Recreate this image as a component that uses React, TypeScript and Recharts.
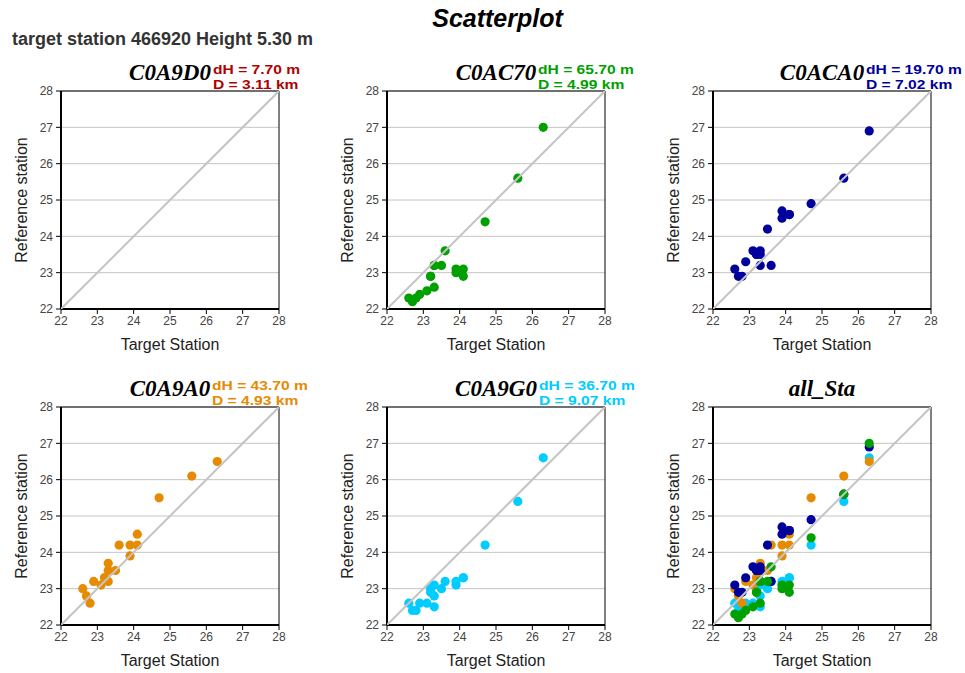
import React from "react";
import {
  ScatterChart,
  Scatter,
  XAxis,
  YAxis,
  CartesianGrid,
  ReferenceLine,
} from "recharts";

// target station values (x), shared by every reference station
const TARGET = [22.6, 22.7, 22.8, 22.9, 23.1, 23.2, 23.2, 23.3, 23.3, 23.3, 23.5, 23.6, 23.9, 23.9, 24.1, 24.1, 24.7, 25.6, 26.3];

// reference station values (y), one per target value
const REF_C0A9D0: number[] = [];
const REF_C0AC70 = [22.3, 22.2, 22.3, 22.4, 22.5, 22.9, 22.9, 23.2, 22.6, 23.2, 23.2, 23.6, 23.1, 23.0, 23.1, 22.9, 24.4, 25.6, 27.0];
const REF_C0ACA0 = [23.1, 22.9, 22.9, 23.3, 23.6, 23.5, 23.5, 23.6, 23.5, 23.2, 24.2, 23.2, 24.7, 24.5, 24.6, 24.6, 24.9, 25.6, 26.9];
const REF_C0A9A0 = [23.0, 22.8, 22.6, 23.2, 23.1, 23.3, 23.3, 23.7, 23.5, 23.2, 23.5, 24.2, 24.2, 23.9, 24.5, 24.2, 25.5, 26.1, 26.5];
const REF_C0A9G0 = [22.6, 22.4, 22.4, 22.6, 22.6, 23.0, 22.9, 23.1, 22.8, 22.5, 23.0, 23.2, 23.2, 23.1, 23.3, 23.3, 24.2, 25.4, 26.6];

const STATIONS = ["C0A9D0", "C0AC70", "C0ACA0", "C0A9A0", "C0A9G0"];
const HEIGHT_DIFF = ["7.70", "65.70", "19.70", "43.70", "36.70"];
const DISTANCE = ["3.11", "4.99", "7.02", "4.93", "9.07"];
const COLORS = ["#b00000", "#00a000", "#00009c", "#e68a00", "#00ccff"];
const REFS = [REF_C0A9D0, REF_C0AC70, REF_C0ACA0, REF_C0A9A0, REF_C0A9G0];

const TICKS = [22, 23, 24, 25, 26, 27, 28];
const DOMAIN: [number, number] = [22, 28];
const DIAG = [
  { x: DOMAIN[0], y: DOMAIN[0] },
  { x: DOMAIN[1], y: DOMAIN[1] },
];

const PLOT = 218;
const LEFTS = [61, 387, 713];
const TOPS = [91, 407];
const SANS = "'Liberation Sans', Arial, sans-serif";

const pts = (ref: number[]) => ref.map((y, i) => ({ x: TARGET[i], y }));

type Series = { data: { x: number; y: number }[]; color: string };

function Panel({
  left,
  top,
  title,
  color,
  dH,
  dist,
  series,
}: {
  left: number;
  top: number;
  title: string;
  color?: string;
  dH?: string;
  dist?: string;
  series: Series[];
}) {
  const note = {
    position: "absolute" as const,
    left: 0,
    height: 15,
    lineHeight: "15px",
    fontFamily: SANS,
    fontStyle: "normal",
    fontWeight: "bold" as const,
    fontSize: 13,
    color,
    whiteSpace: "nowrap" as const,
    transform: "scaleX(1.2)",
    transformOrigin: "left",
  };
  return (
    <>
      <div
        style={{
          position: "absolute",
          left,
          top: top - 30,
          width: PLOT,
          height: 24,
          lineHeight: "24px",
          textAlign: "center",
        }}
      >
        <div style={{ position: "relative", display: "inline-block" }}>
          <span
            style={{
              fontFamily: "'Liberation Serif', serif",
              fontWeight: "bold",
              fontStyle: "italic",
              fontSize: 23,
              color: "#000",
            }}
          >
            {title}
          </span>
          {dH && (
            <div style={{ position: "absolute", left: "100%", marginLeft: 2, top: 1, width: 1, height: 1 }}>
              <div style={{ ...note, top: 0 }}>dH = {dH} m</div>
              <div style={{ ...note, top: 15 }}>D = {dist} km</div>
            </div>
          )}
        </div>
      </div>
      <div style={{ position: "absolute", left: left - 60, top: top - 10 }}>
        <ScatterChart
          width={60 + PLOT + 10}
          height={10 + PLOT + 50}
          margin={{ top: 10, right: 10, bottom: 0, left: 0 }}
        >
          <CartesianGrid vertical={false} stroke="#c4c4c4" horizontalValues={TICKS} />
          <XAxis
            type="number"
            dataKey="x"
            domain={DOMAIN}
            ticks={TICKS}
            allowDataOverflow
            height={50}
            axisLine={{ stroke: "#000", strokeWidth: 2 }}
            tickLine={{ stroke: "#000" }}
            tickSize={5}
            tickMargin={2}
            tick={{ fontSize: 12, fill: "#444", fontFamily: SANS }}
          />
          <YAxis
            type="number"
            dataKey="y"
            domain={DOMAIN}
            ticks={TICKS}
            allowDataOverflow
            width={60}
            axisLine={{ stroke: "#000", strokeWidth: 2 }}
            tickLine={{ stroke: "#000" }}
            tickSize={5}
            tickMargin={3}
            tick={{ fontSize: 12, fill: "#444", fontFamily: SANS }}
          />
          <ReferenceLine y={DOMAIN[1]} stroke="#000" strokeWidth={1} />
          <ReferenceLine x={DOMAIN[1]} stroke="#000" strokeWidth={1} />
          {series.map((s, i) => (
            <Scatter
              key={i}
              data={s.data}
              fill={s.color}
              isAnimationActive={false}
              shape={(p: any) => <circle cx={p.cx} cy={p.cy} r={4.6} fill={s.color} />}
            />
          ))}
          <Scatter
            data={DIAG}
            line={{ stroke: "#c4c4c4", strokeWidth: 2 }}
            shape={() => <g />}
            isAnimationActive={false}
          />
        </ScatterChart>
      </div>
      <div
        style={{
          position: "absolute",
          left: left - 39 - 100,
          top: top + PLOT / 2 - 10,
          width: 200,
          height: 20,
          lineHeight: "20px",
          textAlign: "center",
          fontSize: 16,
          color: "#222",
          transform: "rotate(-90deg)",
        }}
      >
        Reference station
      </div>
      <div
        style={{
          position: "absolute",
          left,
          top: top + PLOT + 26,
          width: PLOT,
          height: 20,
          lineHeight: "20px",
          textAlign: "center",
          fontSize: 16,
          color: "#222",
        }}
      >
        Target Station
      </div>
    </>
  );
}

export default function App() {
  const panels = STATIONS.map((name, i) => ({
    title: name,
    color: COLORS[i],
    dH: HEIGHT_DIFF[i],
    dist: DISTANCE[i],
    series: [{ data: pts(REFS[i]), color: COLORS[i] }],
  }));
  // all stations overlaid, last station drawn first
  const all: Series[] = STATIONS.map((_, i) => ({ data: pts(REFS[i]), color: COLORS[i] })).reverse();

  return (
    <div
      style={{
        position: "absolute",
        left: 0,
        top: 0,
        width: 965,
        height: 673,
        background: "#fff",
        fontFamily: SANS,
        overflow: "hidden",
      }}
    >
      <div
        style={{
          position: "absolute",
          left: 0,
          top: 4,
          width: 995,
          textAlign: "center",
          fontSize: 25,
          fontWeight: "bold",
          fontStyle: "italic",
          color: "#000",
        }}
      >
        Scatterplot
      </div>
      <div
        style={{
          position: "absolute",
          left: 12,
          top: 29,
          fontSize: 18,
          fontWeight: "bold",
          color: "#333",
        }}
      >
        target station 466920 Height 5.30 m
      </div>
      {panels.map((p, i) => (
        <Panel
          key={p.title}
          left={LEFTS[i % 3]}
          top={TOPS[Math.floor(i / 3)]}
          title={p.title}
          color={p.color}
          dH={p.dH}
          dist={p.dist}
          series={p.series}
        />
      ))}
      <Panel left={LEFTS[2]} top={TOPS[1]} title="all_Sta" series={all} />
    </div>
  );
}
